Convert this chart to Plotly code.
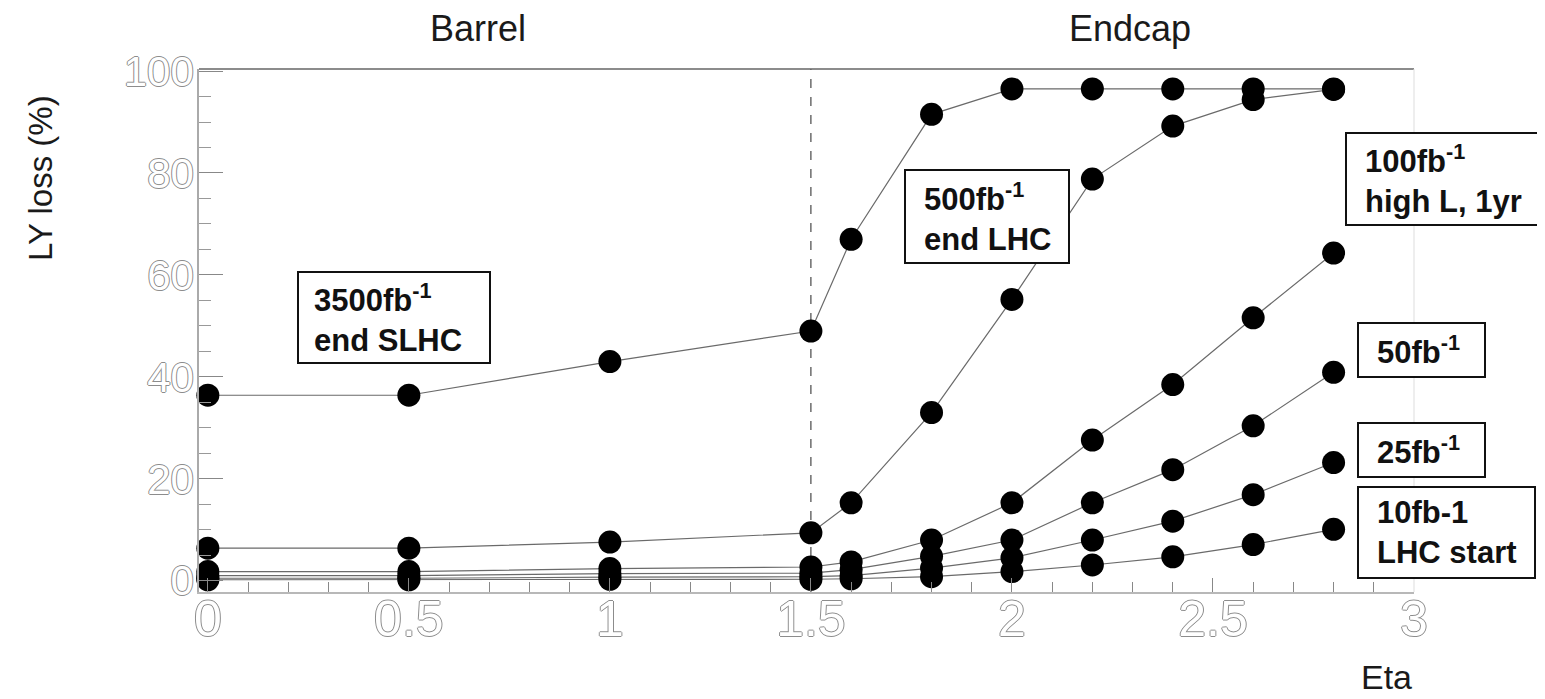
import plotly.graph_objects as go

# ---------------- data ----------------
eta = [0.0, 0.5, 1.0, 1.5, 1.6, 1.8, 2.0, 2.2, 2.4, 2.6, 2.8]
loss_3500 = [36.4, 36.4, 43.0, 49.0, 67.0, 91.5, 96.5, 96.5, 96.5, 96.5, 96.5]
loss_500 = [6.4, 6.4, 7.6, 9.4, 15.3, 33.0, 55.2, 78.8, 89.2, 94.4, 96.4]
loss_100 = [1.8, 1.8, 2.4, 2.7, 3.7, 8.0, 15.3, 27.6, 38.5, 51.6, 64.3]
loss_50 = [1.0, 1.0, 1.4, 1.5, 2.2, 4.8, 8.0, 15.3, 21.8, 30.4, 40.9]
loss_25 = [0.5, 0.5, 0.7, 0.8, 1.0, 2.5, 4.5, 8.0, 11.7, 16.9, 23.2]
loss_10 = [0.2, 0.2, 0.3, 0.3, 0.4, 0.8, 1.8, 3.1, 4.7, 7.1, 10.1]

series = [
    ("3500fb-1", loss_3500),
    ("500fb-1", loss_500),
    ("100fb-1", loss_100),
    ("50fb-1", loss_50),
    ("25fb-1", loss_25),
    ("10fb-1", loss_10),
]

box_texts = [
    "3500fb<sup>-1</sup><br>end SLHC",
    "500fb<sup>-1</sup><br>end LHC",
    "100fb<sup>-1</sup><br>high L, 1yr",
    "50fb<sup>-1</sup>",
    "25fb<sup>-1</sup>",
    "10fb-1<br>LHC start",
]

x_ticks = [0, 0.5, 1, 1.5, 2, 2.5, 3]
y_ticks = [0, 20, 40, 60, 80, 100]

# ---------------- layout geometry (screen pixels) ----------------
OFF = 8                      # page body margin
W, H = 1545 - OFF, 699 - OFF
L, R, T, B = 199, 1414, 69, 592   # plot area in screen pixels


def px(xp):
    return (xp - L) / (R - L)


def py(yp):
    return (B - yp) / (B - T)


fig = go.Figure()
for name, vals in series:
    fig.add_trace(go.Scatter(
        x=eta, y=vals, name=name, mode="lines+markers",
        line=dict(color="#6a6a6a", width=1.2),
        marker=dict(color="black", size=23, line=dict(width=0)),
        cliponaxis=False, showlegend=False,
    ))

# box positions: left, top, width, height (screen pixels)
boxes = [
    (298, 272, 192, 91),
    (905, 170, 164, 93),
    (1346, 133, 215, 92),
    (1358, 323, 127, 54),
    (1358, 423, 127, 54),
    (1358, 487, 177, 91),
]
text_indent = [14, 17, 17, 17, 17, 17]

shapes = [
    dict(type="line", xref="x", yref="paper", x0=1.5, x1=1.5, y0=0, y1=1,
         line=dict(color="#222", width=1, dash="dash"), layer="below"),
    dict(type="line", xref="paper", yref="paper", x0=0, x1=1, y0=1, y1=1,
         line=dict(color="#666", width=1.5)),
    dict(type="line", xref="paper", yref="paper", x0=1, x1=1, y0=0, y1=1,
         line=dict(color="#dddddd", width=1)),
]
annotations = []
for text, (bl, bt, bw, bh), ind in zip(box_texts, boxes, text_indent):
    shapes.append(dict(
        type="rect", xref="paper", yref="paper",
        x0=px(bl), x1=px(bl + bw), y0=py(bt + bh), y1=py(bt),
        line=dict(color="#111", width=2), fillcolor="white", layer="above",
    ))
    annotations.append(dict(
        text=text, xref="paper", yref="paper", x=px(bl + ind), y=py(bt + bh / 2),
        xanchor="left", yanchor="middle", align="left",
        showarrow=False,
        font=dict(family="Liberation Sans", size=31, color="#111", weight="bold"),
    ))

title_font = dict(family="Liberation Sans", size=36, color="#1a1a1a")
annotations += [
    dict(text="Barrel", xref="paper", yref="paper", x=px(478), y=py(28),
         showarrow=False, font=title_font, xanchor="center", yanchor="middle"),
    dict(text="Endcap", xref="paper", yref="paper", x=px(1130), y=py(28),
         showarrow=False, font=title_font, xanchor="center", yanchor="middle"),
    dict(text="Eta", xref="paper", yref="paper", x=px(1386), y=py(677),
         showarrow=False, font=dict(family="Liberation Sans", size=34, color="#1a1a1a"),
         xanchor="center", yanchor="middle"),
    dict(text="LY loss (%)", xref="paper", yref="paper", x=px(40), y=py(178),
         showarrow=False, font=dict(family="Liberation Sans", size=33, color="#1a1a1a"),
         textangle=-90, xanchor="center", yanchor="middle"),
]

outline = "-1px 0 0 #8c8c8c, 1px 0 0 #8c8c8c, 0 -1px 0 #8c8c8c, 0 1px 0 #8c8c8c"
x_tick_font = dict(family="Liberation Sans", size=50, color="white", shadow=outline)
y_tick_font = dict(family="Liberation Sans", size=42, color="white", shadow=outline)

fig.update_layout(
    width=W, height=H,
    margin=dict(l=L - OFF, r=W - (R - OFF), t=T - OFF, b=H - (B - OFF), autoexpand=False),
    paper_bgcolor="white", plot_bgcolor="white",
    annotations=annotations, shapes=shapes,
    xaxis=dict(
        range=[-0.022, 3.0], tickvals=x_ticks, ticktext=[str(v) for v in x_ticks],
        ticks="inside", ticklen=14, tickcolor="#888", tickwidth=1,
        minor=dict(ticks="inside", dtick=0.1, ticklen=10, tickcolor="#888", showgrid=False),
        showline=True, linecolor="#b8b8b8", linewidth=2,
        showgrid=False, zeroline=False, tickfont=x_tick_font,
        ticklabelstandoff=-18,
    ),
    yaxis=dict(
        range=[-2.2, 100.4], tickvals=y_ticks,
        ticks="inside", ticklen=24, tickcolor="#888", tickwidth=1,
        minor=dict(ticks="inside", dtick=5, ticklen=12, tickcolor="#999", showgrid=False),
        showline=True, linecolor="#aaaaaa", linewidth=1.5,
        showgrid=False, zeroline=False, tickfont=y_tick_font,
        ticklabelstandoff=-5,
    ),
)

fig.write_html("out.html")
